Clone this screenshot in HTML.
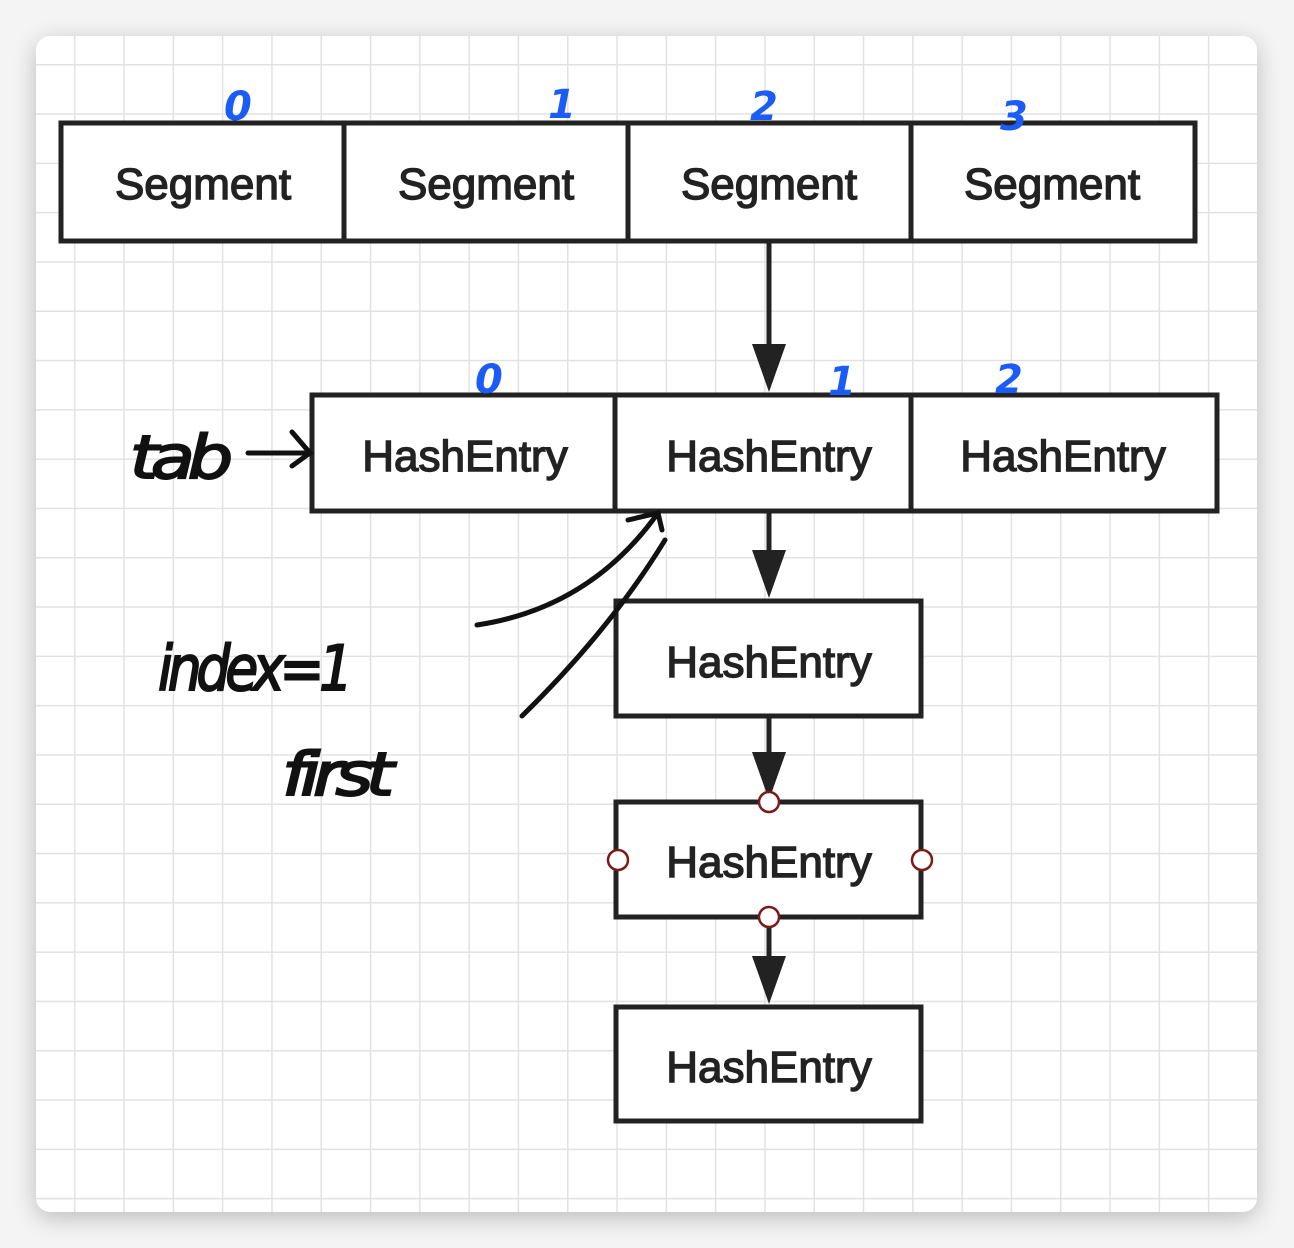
<!DOCTYPE html>
<html><head><meta charset="utf-8"><style>
html,body{margin:0;padding:0;background:#f4f4f4;}
body{width:1294px;height:1248px;position:relative;overflow:hidden;}
</style></head><body>
<svg width="1294" height="1248" xmlns="http://www.w3.org/2000/svg" style="position:absolute;left:0;top:0">
<defs>
<filter id="sh" x="-10%" y="-10%" width="120%" height="120%"><feGaussianBlur stdDeviation="12"/></filter>
<pattern id="g" x="74" y="64" width="49.3" height="49.3" patternUnits="userSpaceOnUse">
<path d="M0 0H49.3M0 0V49.3" stroke="#e2e2e2" stroke-width="3" fill="none"/>
</pattern>
</defs>
<rect x="36" y="42" width="1221" height="1176" rx="14" fill="#bbb" filter="url(#sh)"/>
<rect x="36" y="36" width="1221" height="1176" rx="14" fill="#fff"/>
<rect x="36" y="36" width="1221" height="1176" rx="14" fill="url(#g)"/>
<g fill="#fff" stroke="#222" stroke-width="5">
<rect x="61" y="123" width="1134" height="118"/>
<line x1="344" y1="123" x2="344" y2="241"/><line x1="628" y1="123" x2="628" y2="241"/><line x1="911" y1="123" x2="911" y2="241"/>
<rect x="312" y="395" width="905" height="116"/>
<line x1="615" y1="395" x2="615" y2="511"/><line x1="911" y1="395" x2="911" y2="511"/>
<rect x="616" y="601" width="305" height="115"/>
<rect x="616" y="802" width="305" height="115"/>
<rect x="616" y="1007" width="305" height="114"/>
</g>
<g stroke="#222" stroke-width="5">
<line x1="769" y1="243" x2="769" y2="350"/>
<line x1="769" y1="513" x2="769" y2="556"/>
<line x1="769" y1="718" x2="769" y2="756"/>
<line x1="769" y1="918" x2="769" y2="960"/>
</g>
<g fill="#222">
<polygon points="752,344 786,344 769,392"/>
<polygon points="752,550 786,550 769,598"/>
<polygon points="752,752 786,752 769,800"/>
<polygon points="752,956 786,956 769,1004"/>
</g>
<g fill="#fff" stroke="#7a1a1a" stroke-width="2.5">
<circle cx="769" cy="802" r="10"/><circle cx="618" cy="860" r="10"/><circle cx="922" cy="860" r="10"/><circle cx="769" cy="917" r="10"/>
</g>
<g font-family="Liberation Sans, sans-serif" font-size="44" fill="#222" text-anchor="middle" stroke="#222" stroke-width="1.4">
<text x="203" y="199">Segment</text><text x="486" y="199">Segment</text><text x="769" y="199">Segment</text><text x="1052" y="199">Segment</text>
<text x="465" y="471">HashEntry</text><text x="769" y="471">HashEntry</text><text x="1063" y="471">HashEntry</text>
<text x="769" y="677">HashEntry</text><text x="769" y="877">HashEntry</text><text x="769" y="1082">HashEntry</text>
</g>
<g font-family="DejaVu Sans, sans-serif" font-size="40" fill="#1a5cf5" font-style="italic" font-weight="bold">
<text x="224" y="120">0</text><text x="548" y="118">1</text><text x="750" y="120">2</text><text x="1000" y="130">3</text>
<text x="475" y="393">0</text><text x="828" y="395">1</text><text x="995" y="393">2</text>
</g>
<g fill="none" stroke="#111" stroke-width="5" stroke-linecap="round">
<path d="M248 453H308M292 432L310 453L292 466"/>
<path d="M477 625Q590 608 658 513"/>
<path d="M628 520L658 513L662 530"/>
<path d="M522 716Q610 630 665 540"/>
</g>
<g font-family="DejaVu Sans, sans-serif" fill="#111" font-style="italic" stroke="#111" stroke-width="2">
<text x="130" y="478" font-size="60" letter-spacing="-6" textLength="96" lengthAdjust="spacingAndGlyphs">tab</text>
<text x="158" y="690" font-size="62" letter-spacing="-6" textLength="190" lengthAdjust="spacingAndGlyphs">index=1</text>
<text x="282" y="795" font-size="60" letter-spacing="-6" textLength="105" lengthAdjust="spacingAndGlyphs">first</text>
</g>
</svg>
</body></html>
